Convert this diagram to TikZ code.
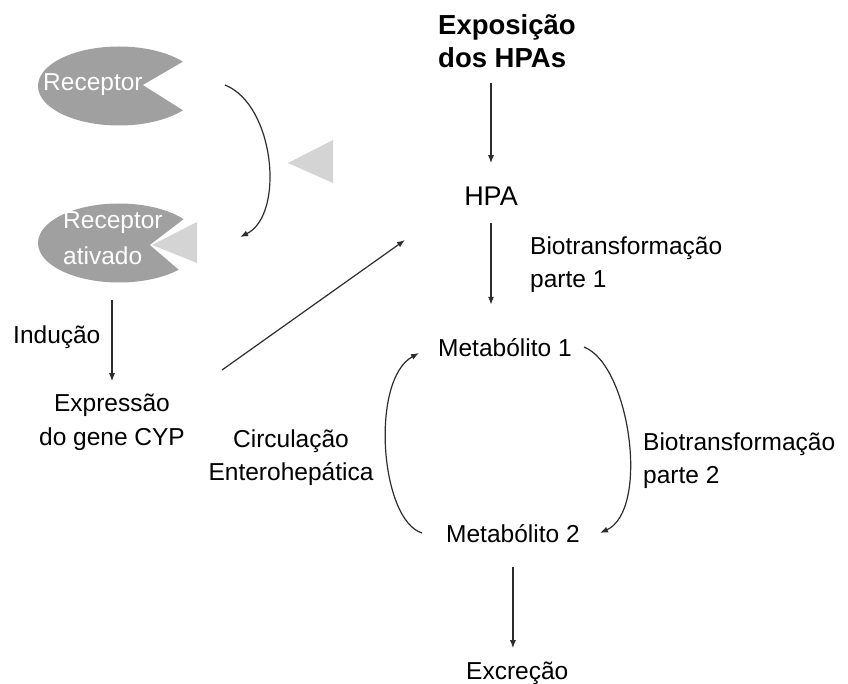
\documentclass[tikz,border=0pt]{standalone}
\usepackage{fontspec}
\setmainfont{Liberation Sans}
\usetikzlibrary{arrows.meta,shapes.geometric}
\definecolor{recgray}{RGB}{160,160,160}
\definecolor{trigray}{RGB}{212,212,212}
\definecolor{linecol}{RGB}{45,45,45}
\begin{document}
\begin{tikzpicture}[x=1pt,y=-1pt,
  lbl/.style={inner sep=0pt, font=\fontsize{24.5}{33}\selectfont, text=black},
  ttl/.style={inner sep=0pt, font=\fontsize{27.5}{33}\selectfont\bfseries, text=black},
  rec/.style={ellipse, fill=recgray, inner sep=0pt, minimum width=162pt, minimum height=79pt},
  rtxt/.style={lbl, text=white},
  arr/.style={draw=linecol, line width=1.2pt, -{Latex[length=8pt,width=6pt]}}]
\useasboundingbox (0,0) rectangle (848,684);
\fill[white] (0,0) rectangle (848,684);

% receptor shapes
\node[rec] (recA) at (119,86) {};
\node[rec] (recB) at (119,243) {};
\fill[white] (143,85) -- (205,49) -- (205,124) -- cycle;
\fill[white] (150,245) -- (205,203) -- (205,292) -- cycle;
\fill[trigray] (152,245) -- (197,222) -- (197,263) -- cycle;
\fill[trigray] (288,163) -- (333,140) -- (333,183) -- cycle;
\node[rtxt, anchor=base west] (recAt) at (43,91) {Receptor};
\node[rtxt, anchor=base west, align=left, font=\fontsize{24.5}{36}\selectfont] (recBt) at (63,265) {Receptor\\ativado};

% text nodes
\node[ttl, anchor=base west, align=left] (expo) at (438,68) {Exposição\\dos HPAs};
\node[lbl, anchor=base, font=\fontsize{27}{33}\selectfont] (hpa) at (491,206) {HPA};
\node[lbl, anchor=base west, align=left] (bio1) at (530,288) {Biotransformação\\parte 1};
\node[lbl, anchor=base west] (met1) at (438,356) {Metabólito 1};
\node[lbl, anchor=base west, align=left] (bio2) at (643,483) {Biotransformação\\parte 2};
\node[lbl, anchor=base, align=center] (circ) at (291,480) {Circulação\\Enterohepática};
\node[lbl, anchor=base west] (met2) at (446,542) {Metabólito 2};
\node[lbl, anchor=base west] (excr) at (466,679) {Excreção};
\node[lbl, anchor=base west] (ind) at (13,344) {Indução};
\node[lbl, anchor=base, align=center, font=\fontsize{24.5}{34}\selectfont] (expr) at (112,445) {Expressão\\do gene CYP};

% straight arrows
\draw[arr, shorten <=15pt, shorten >=24pt] (expo.south -| hpa.north) -- (hpa.north);
\draw[arr, shorten <=17pt, shorten >=33pt] (hpa.south) -- (hpa.south |- met1.north);
\draw[arr, shorten <=25pt, shorten >=13pt] (met2.south) -- (met2.south |- excr.north);
\draw[arr, shorten <=17pt, shorten >=12pt] (expr.north |- recB.south) -- (expr.north);

% receptor activation curve
\coordinate (rcS) at (225,85);
\coordinate (rcE) at (240,237);
\draw[arr] (rcS) .. controls (275,105) and (285,215) .. (rcE);

% induction to HPA
\coordinate (dgS) at (222,370);
\coordinate (dgE) at (405,240);
\draw[arr] (dgS) -- (dgE);

% metabolite cycle
\coordinate (m1R) at (584,347);
\coordinate (m2R) at (600,533);
\draw[arr] (m1R) .. controls (630,365) and (650,510) .. (m2R);
\coordinate (m2L) at (422,533);
\coordinate (m1L) at (419,353);
\draw[arr] (m2L) .. controls (380,520) and (370,380) .. (m1L);
\end{tikzpicture}
\end{document}
